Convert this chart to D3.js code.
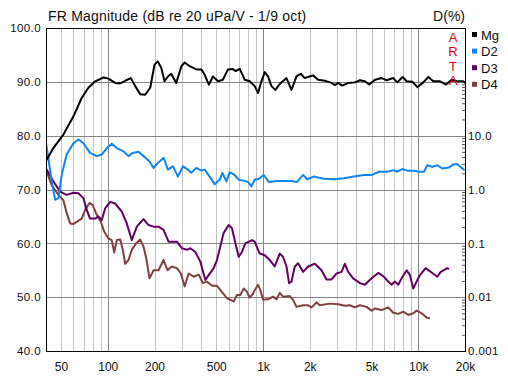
<!DOCTYPE html>
<html>
<head>
<meta charset="utf-8">
<script src="https://cdn.jsdelivr.net/npm/d3@7"></script>
<style>
    body { margin: 0; background: white; }
    text { font-family: "Liberation Sans", Arial, sans-serif; }
</style>
</head>
<body>
<svg id="fr_chart" width="508" height="377"></svg>
<script>
(() => {

    // series data: [frequency Hz, level dB]
    const mg = [[40, 75.3], [44.6, 77.7], [51.8, 80.2], [60.1, 83.6], [67.9, 87.0], [75, 88.9], [83, 90.1], [93.8, 90.8], [101, 90.6], [111.6, 89.8], [120.2, 89.7], [129.5, 90.2], [140.7, 90.7], [150.2, 89.2], [161.8, 87.7], [174.3, 87.6], [187.7, 88.9], [200, 93.2], [210, 93.8], [221, 92.6], [232, 90.1], [244, 91.0], [256, 91.5], [276, 89.8], [298, 92.9], [313, 93.6], [337, 92.9], [372, 92.3], [401, 92.3], [421, 91.3], [448, 89.5], [476, 91.0], [513, 90.1], [552, 90.4], [594, 92.3], [635, 92.4], [667, 92.0], [708, 92.4], [762, 90.4], [821, 90.1], [884, 89.2], [929, 87.9], [977, 90.1], [1026, 91.8], [1077, 91.0], [1133, 89.2], [1202, 88.5], [1282, 89.6], [1416, 90.7], [1525, 88.5], [1643, 91.0], [1750, 91.5], [1857, 90.7], [2101, 91.2], [2264, 90.4], [2500, 90.2], [2762, 89.8], [2901, 89.4], [3048, 89.8], [3234, 89.3], [3536, 89.8], [3906, 89.9], [4209, 90.3], [4531, 90.1], [4831, 89.5], [5260, 90.4], [5808, 90.7], [6257, 90.3], [6902, 90.7], [7325, 89.9], [7930, 90.9], [8413, 90.1], [9200, 90.0], [9857, 89.0], [10770, 89.9], [11610, 90.9], [12500, 90.1], [13800, 90.1], [15100, 89.5], [16420, 90.4], [17700, 90.1], [19500, 90.1], [20000, 89.8]];

    const d2 = [[40, 78.6], [41.4, 75.9], [43.5, 71.5], [45.8, 68.1], [48.1, 68.4], [50.5, 72.7], [54.3, 76.5], [60.1, 78.6], [64.7, 79.3], [69.7, 78.6], [76.9, 76.8], [84.9, 76.2], [91.4, 76.5], [98.6, 77.7], [106.1, 78.5], [114.3, 77.7], [126.2, 77.1], [136, 76.2], [145, 76.8], [158, 77.0], [170, 76.2], [186, 75.2], [197, 74.0], [210, 74.9], [229, 75.9], [244, 73.7], [263, 74.3], [283, 72.4], [305, 74.3], [328, 73.7], [345, 73.1], [372, 74.0], [401, 73.5], [421, 73.7], [453, 72.4], [488, 71.0], [526, 71.8], [547, 73.1], [581, 71.5], [610, 73.2], [656, 72.7], [700, 71.8], [762, 71.6], [800, 71.4], [842, 70.6], [884, 71.8], [942, 72.0], [1011, 72.7], [1089, 71.4], [1231, 71.6], [1503, 71.6], [1657, 71.4], [1812, 72.7], [1923, 71.9], [2123, 72.4], [2464, 72.0], [2858, 71.9], [3318, 72.1], [3849, 72.4], [4464, 72.7], [5051, 72.7], [5576, 73.3], [6310, 73.3], [6968, 73.6], [7325, 73.3], [7881, 73.8], [8492, 73.5], [9380, 73.5], [10110, 73.3], [10890, 73.3], [11430, 74.5], [12310, 74.2], [13270, 74.5], [14290, 73.9], [15780, 74.1], [16990, 74.7], [17870, 74.7], [19240, 73.9], [19900, 73.6]];

    const d3_series = [[40, 73.9], [44.7, 71.5], [49.3, 69.6], [54.4, 69.0], [60.1, 69.4], [64.7, 69.3], [69.7, 68.4], [73.2, 66.2], [76.9, 64.6], [83, 64.6], [87.1, 65.0], [91.4, 64.3], [96.2, 66.5], [103.6, 67.7], [111.6, 67.4], [123.1, 65.9], [132.6, 63.7], [142.8, 60.6], [153.8, 63.1], [169.9, 64.5], [183.1, 63.4], [197.1, 63.1], [212.3, 63.1], [228.7, 62.5], [246.4, 60.3], [278.7, 60.3], [300.2, 59.1], [323.4, 58.8], [340.2, 59.1], [366.4, 58.4], [394.6, 56.6], [425, 53.2], [446.5, 54.1], [480.9, 55.4], [505.2, 56.9], [557.3, 61.9], [600.4, 63.4], [630.9, 62.8], [663.9, 60.0], [697.1, 57.5], [732.2, 58.4], [769.3, 60.0], [849.2, 60.6], [884, 60.3], [952, 58.1], [1026, 57.8], [1105, 56.9], [1190, 55.7], [1282, 58.1], [1346, 57.5], [1416, 55.7], [1472, 52.6], [1525, 52.9], [1602, 55.7], [1683, 56.3], [1812, 54.7], [1951, 55.7], [2157, 56.2], [2381, 55.0], [2564, 53.3], [2762, 53.3], [2976, 54.4], [3205, 54.7], [3366, 56.2], [3536, 54.7], [3808, 53.5], [4209, 52.6], [4531, 52.3], [5002, 53.5], [5521, 54.5], [5947, 53.9], [6405, 52.9], [6732, 52.3], [7073, 52.9], [7431, 52.3], [7816, 53.5], [8418, 55.0], [8840, 54.1], [9285, 51.6], [9761, 52.9], [10255, 54.1], [11160, 55.4], [12310, 54.5], [13270, 53.8], [13950, 54.7], [15380, 55.4], [15780, 55.2]];

    const d4 = [[40, 73.6], [43.5, 70.8], [48.1, 69.0], [51.8, 68.0], [54.4, 65.6], [57.2, 63.7], [60.1, 63.6], [63.1, 64.0], [67.9, 64.6], [71.5, 66.2], [76.2, 67.5], [80, 67.1], [84.9, 65.3], [90.2, 64.0], [94.8, 62.2], [101, 60.9], [106.1, 60.6], [110, 58.3], [114.3, 60.6], [120.2, 60.7], [125, 58.8], [129.5, 56.2], [136, 56.9], [142.8, 58.8], [152.4, 60.0], [161.8, 60.7], [169.9, 59.4], [177, 57.2], [185.8, 53.5], [197.1, 55.0], [212.3, 55.0], [228.7, 56.9], [242.7, 55.0], [258.8, 55.7], [278.7, 55.4], [295.8, 54.4], [312.6, 52.0], [331.7, 54.4], [357.3, 53.8], [384.8, 54.2], [410.3, 52.6], [435.1, 52.9], [468.8, 52.1], [505.2, 52.1], [543.5, 51.0], [585.5, 49.8], [647, 49.2], [679.6, 50.4], [714.5, 50.4], [750.6, 51.6], [788.2, 51.0], [820.7, 49.9], [861.6, 50.6], [884, 51.3], [928.6, 52.3], [961.8, 51.3], [1000, 49.5], [1077, 49.6], [1160, 50.1], [1220, 49.6], [1282, 50.8], [1346, 50.1], [1486, 50.2], [1562, 49.5], [1643, 48.2], [1812, 48.5], [1951, 48.5], [2051, 48.1], [2212, 49.0], [2323, 48.5], [2692, 48.8], [3048, 48.7], [3366, 48.4], [3625, 48.5], [3906, 48.1], [4209, 48.5], [4645, 48.2], [5002, 47.5], [5260, 47.9], [5808, 47.6], [6405, 48.1], [6902, 47.1], [7431, 46.9], [8001, 47.3], [8617, 46.7], [9285, 47.0], [9761, 47.5], [10520, 47.0], [11330, 46.2], [11890, 46.1]];

    // legend and tick labels
    const series_names = ['Mg', 'D2', 'D3', 'D4'];
    const series_colors = ['#000000', '#1084f0', '#620062', '#804040'];
    const db_ticks = [40, 50, 60, 70, 80, 90, 100];
    const freq_ticks = [50, 100, 200, 500, 1000, 2000, 5000, 10000, 20000];
    const freq_labels = ['50', '100', '200', '500', '1k', '2k', '5k', '10k', '20k'];
    const pct_ticks = [10, 1, 0.1, 0.01, 0.001];
    const pct_labels = ['10.0', '1.0', '0.1', '0.01', '0.001'];

    // define chart parameters
    const left = 46, right = 465, top = 28, bottom = 351;

    let svg = d3.select('#fr_chart');

    let x_scale = d3.scaleLog().domain([40, 20000]).range([left, right]);
    let y_scale = d3.scaleLinear().domain([40, 100]).range([bottom, top]);
    // one decade of percent per 10 dB, 0.001 % at the bottom
    let pct_scale = d3.scaleLog().domain([0.001, 1000]).range([bottom, top]);

    // vertical grid (1-2-..-9 per decade)
    let grid_freqs = [];
    for (let dec of [10, 100, 1000, 10000]) {
        for (let m = 1; m <= 9; m++) {
            let f = dec * m;
            if (f > 40 && f < 20000) grid_freqs.push(f);
        }
    }
    svg.append('g')
        .selectAll('line')
        .data(grid_freqs)
        .enter()
        .append('line')
        .attr('x1', (d) => Math.round(x_scale(d)) + 0.5)
        .attr('x2', (d) => Math.round(x_scale(d)) + 0.5)
        .attr('y1', top)
        .attr('y2', bottom)
        .style('stroke', (d) => [100, 1000, 10000].includes(d) ? '#858585' : '#c4c4c4')
        .style('stroke-width', 1);

    // horizontal grid
    svg.append('g')
        .selectAll('line')
        .data(db_ticks.slice(1, -1))
        .enter()
        .append('line')
        .attr('x1', left)
        .attr('x2', right)
        .attr('y1', (d) => Math.round(y_scale(d)) + 0.5)
        .attr('y2', (d) => Math.round(y_scale(d)) + 0.5)
        .style('stroke', '#858585')
        .style('stroke-width', 1);

    // curves
    svg.append('clipPath').attr('id', 'plot_clip')
        .append('rect')
        .attr('x', left).attr('y', top)
        .attr('width', right - left).attr('height', bottom - top);

    let line = d3.line()
        .x((d) => x_scale(d[0]))
        .y((d) => y_scale(d[1]));

    let all_series = [d4, d3_series, d2, mg];
    let all_colors = [series_colors[3], series_colors[2], series_colors[1], series_colors[0]];

    svg.append('g')
        .attr('clip-path', 'url(#plot_clip)')
        .selectAll('path')
        .data(all_series)
        .enter()
        .append('path')
        .attr('d', line)
        .style('fill', 'none')
        .style('stroke', (d, i) => all_colors[i])
        .style('stroke-width', 2)
        .style('stroke-linejoin', 'round');

    // frame
    svg.append('rect')
        .attr('x', left + 0.5).attr('y', top + 0.5)
        .attr('width', right - left).attr('height', bottom - top)
        .style('fill', 'none')
        .style('stroke', 'black')
        .style('stroke-width', 1);

    // left axis
    let y_axis = d3.axisLeft(y_scale)
        .tickValues(db_ticks)
        .tickSize(0)
        .tickPadding(5)
        .tickFormat(d3.format('.1f'));

    svg.append('g')
        .attr('transform', `translate(${left}, 0)`)
        .call(y_axis)
        .call((g) => g.select('.domain').remove())
        .selectAll('text')
        .style('font-size', '11.5px')
        .style('letter-spacing', '0.4px')
        .style('fill', '#101010');

    // bottom axis
    let x_axis = d3.axisBottom(x_scale)
        .tickValues(freq_ticks)
        .tickSize(0)
        .tickPadding(11)
        .tickFormat((d, i) => freq_labels[i]);

    svg.append('g')
        .attr('transform', `translate(0, ${bottom})`)
        .call(x_axis)
        .call((g) => g.select('.domain').remove())
        .selectAll('text')
        .style('font-size', '12px')
        .style('fill', '#101010');

    // right axis, distortion in percent
    let minor_pct = [];
    for (let dec of [0.001, 0.01, 0.1, 1, 10]) {
        for (let m = 2; m <= 9; m++) minor_pct.push(dec * m);
    }
    svg.append('g')
        .attr('transform', `translate(${right}, 0)`)
        .call(d3.axisRight(pct_scale).tickValues(minor_pct).tickSize(-3).tickFormat(''))
        .call((g) => g.select('.domain').remove())
        .selectAll('line')
        .style('stroke', '#555');

    let pct_axis = d3.axisRight(pct_scale)
        .tickValues(pct_ticks)
        .tickSize(0)
        .tickPadding(3)
        .tickFormat((d, i) => pct_labels[i]);

    svg.append('g')
        .attr('transform', `translate(${right}, 0)`)
        .call(pct_axis)
        .call((g) => g.select('.domain').remove())
        .selectAll('text')
        .style('font-size', '11.5px')
        .style('letter-spacing', '0.4px')
        .style('fill', '#101010');

    // titles
    svg.append('text')
        .attr('x', 48)
        .attr('y', 21)
        .text('FR Magnitude (dB re 20 uPa/V - 1/9 oct)')
        .style('font-size', '14px')
        .style('letter-spacing', '0.2px')
        .style('fill', '#101010');

    svg.append('text')
        .attr('x', 465)
        .attr('y', 21)
        .text('D(%)')
        .style('font-size', '14px')
        .style('text-anchor', 'end')
        .style('fill', '#101010');

    // ARTA mark
    svg.append('g')
        .selectAll('text')
        .data(['A', 'R', 'T', 'A'])
        .enter()
        .append('text')
        .attr('x', 453)
        .attr('y', (d, i) => 41.5 + i * 14.5)
        .text((d) => d)
        .style('font-size', '13px')
        .style('text-anchor', 'middle')
        .style('fill', '#e00010');

    // legend
    let legend = svg.append('g')
        .selectAll('g')
        .data(series_names)
        .enter()
        .append('g')
        .attr('transform', (d, i) => `translate(472, ${34.5 + i * 16.6})`);

    legend.append('rect')
        .attr('x', 0).attr('y', -2.5)
        .attr('width', 5).attr('height', 5)
        .style('fill', (d, i) => series_colors[i]);

    legend.append('text')
        .attr('x', 9)
        .attr('y', 5)
        .text((d) => d)
        .style('font-size', '13px')
        .style('fill', '#101010');

})();
</script>
</body>
</html>
